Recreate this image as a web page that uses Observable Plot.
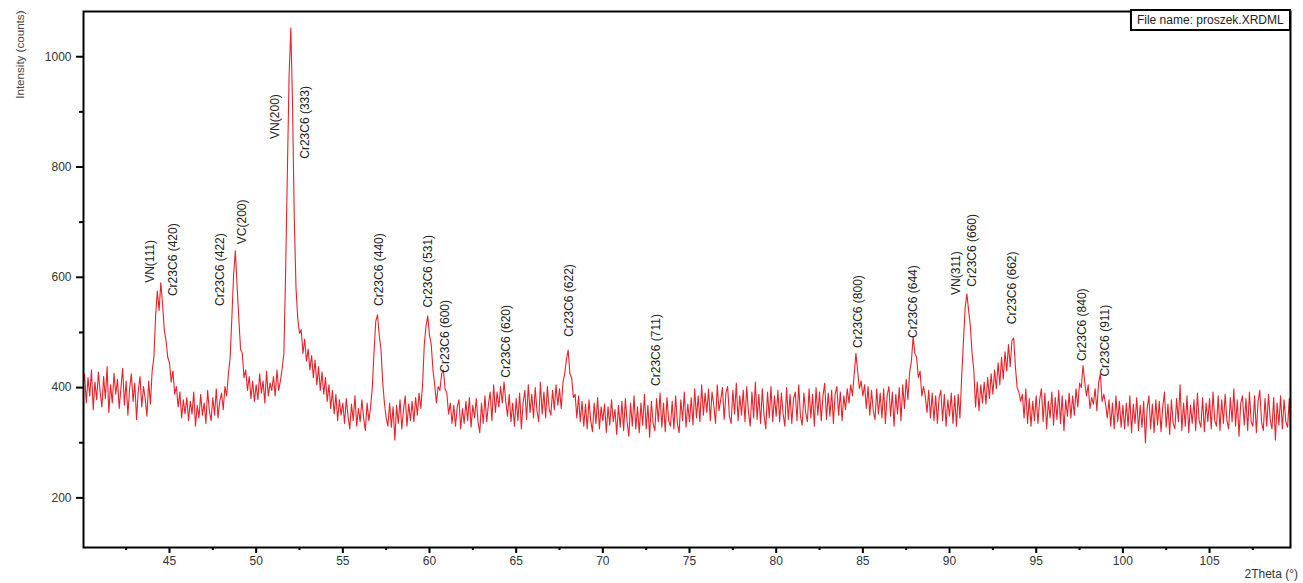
<!DOCTYPE html>
<html>
<head>
<meta charset="utf-8">
<script src="https://cdn.jsdelivr.net/npm/d3@7"></script>
<script src="https://cdn.jsdelivr.net/npm/@observablehq/plot@0.6"></script>
<style>
  html, body { margin: 0; padding: 0; background: #fff; }
  #chart { width: 1303px; height: 583px; overflow: hidden; }
</style>
</head>
<body>
<div id="chart"></div>
<script>
// 2Theta sampling: each segment starts at its start angle and advances 0.1° per value
const step = 0.1;
const seg40 = [
  400, 425, 372, 418, 385, 432, 360, 410, 378, 428,
  392, 365, 420, 380, 438, 355, 405, 372, 426, 388,
  415, 362, 400, 435, 368, 412, 350, 398, 425, 375,
  408, 342, 395, 420, 365, 402, 380, 348, 412, 370,
  430, 455, 530, 575, 540, 590, 552, 505, 485, 455,
  445, 410, 430, 388, 402, 365, 392, 345, 378, 352,
  382, 340, 375, 352, 392, 330, 368, 345, 388, 350,
  372, 335, 395, 358, 340, 382, 350, 398, 345, 375,
  390, 360, 402, 385, 425, 455, 528, 605, 648, 585,
  525, 470, 462, 418, 432, 395, 420, 380, 412, 375
];
const seg50 = [
  405, 378, 425, 390, 412, 372, 430, 385, 408, 395,
  420, 385, 432, 395, 412, 435, 462, 610, 790, 965,
  1052, 910, 705, 580, 525, 498, 505, 462, 488, 448,
  470, 432, 458, 418, 450, 405, 438, 395, 428, 388,
  418, 375, 405, 362, 395, 352, 388, 340, 378, 350,
  372, 335, 380, 348, 325, 370, 340, 385, 330, 362,
  338, 378, 345, 322, 372, 340, 365, 400, 465, 520,
  532, 495, 470, 410, 372, 345, 330, 372, 328, 365,
  305, 368, 335, 378, 325, 360, 385, 330, 370, 340,
  375, 338, 382, 350, 390, 362, 405, 478, 512, 530
];
const seg60 = [
  495, 478, 432, 405, 372, 402, 395, 425, 432, 398,
  390, 352, 372, 335, 368, 330, 365, 378, 325, 362,
  335, 375, 340, 382, 328, 368, 345, 380, 338, 318,
  372, 335, 385, 338, 370, 392, 340, 405, 355, 392,
  365, 402, 372, 410, 375, 348, 388, 338, 372, 330,
  380, 340, 390, 325, 372, 395, 342, 405, 355, 388,
  345, 400, 358, 338, 410, 352, 392, 345, 402, 362,
  350, 395, 360, 405, 368, 398, 362, 410, 425, 452,
  468, 425, 418, 382, 388, 345, 385, 338, 375, 330,
  370, 325, 378, 340, 320, 372, 335, 382, 325, 365
];
const seg70 = [
  340, 370, 318, 365, 332, 378, 338, 360, 315, 368,
  328, 375, 322, 380, 338, 312, 372, 330, 385, 325,
  365, 318, 372, 332, 388, 325, 368, 310, 375, 335,
  322, 380, 338, 390, 328, 372, 320, 382, 340, 330,
  375, 325, 385, 335, 318, 378, 340, 392, 328, 370,
  338, 382, 332, 398, 345, 385, 338, 405, 350, 390,
  355, 398, 340, 392, 368, 335, 405, 358, 378, 400,
  342, 390, 402, 348, 335, 395, 352, 408, 340, 385,
  350, 395, 338, 402, 355, 330, 392, 345, 410, 342,
  388, 335, 398, 350, 325, 392, 345, 402, 338, 385
];
const seg80 = [
  348, 395, 338, 390, 352, 330, 400, 342, 388, 335,
  380, 392, 340, 405, 348, 332, 390, 355, 338, 398,
  345, 388, 330, 400, 350, 392, 340, 385, 408, 342,
  390, 348, 395, 335, 388, 402, 350, 392, 340, 385,
  360, 398, 372, 405, 385, 425, 462, 430, 398, 412,
  385, 405, 362, 402, 350, 395, 358, 342, 398, 352,
  390, 345, 398, 335, 385, 402, 348, 392, 330, 388,
  352, 400, 340, 405, 362, 415, 378, 428, 448, 492,
  462, 455, 418, 430, 385, 402, 385, 355, 395, 345,
  390, 340, 385, 335, 382, 395, 340, 388, 330, 378
];
const seg90 = [
  348, 390, 335, 385, 330, 388, 345, 420, 482, 545,
  570, 540, 512, 462, 432, 365, 410, 358, 405, 372,
  410, 370, 418, 380, 425, 388, 432, 398, 445, 405,
  455, 415, 465, 430, 478, 438, 485, 490, 438, 400,
  392, 375, 388, 345, 398, 335, 380, 330, 375, 340,
  385, 335, 378, 398, 338, 390, 325, 375, 345, 392,
  332, 382, 342, 395, 335, 385, 322, 378, 348, 390,
  345, 385, 350, 398, 365, 408, 400, 440, 410, 385,
  405, 362, 382, 370, 398, 358, 410, 425, 375, 388,
  370, 345, 378, 330, 372, 325, 385, 338, 375, 328
];
const seg100 = [
  368, 325, 372, 330, 385, 318, 370, 335, 382, 322,
  368, 328, 375, 300, 362, 385, 325, 370, 318, 378,
  332, 375, 320, 365, 392, 328, 370, 315, 378, 335,
  325, 380, 338, 405, 322, 372, 330, 385, 318, 368,
  335, 378, 322, 390, 340, 328, 382, 320, 372, 338,
  380, 325, 392, 340, 330, 385, 322, 378, 335, 388,
  340, 325, 382, 338, 398, 330, 378, 312, 372, 385,
  332, 380, 322, 392, 338, 330, 385, 318, 375, 395,
  338, 322, 380, 330, 388, 342, 325, 382, 305, 372,
  332, 385, 325, 378, 338, 328, 380, 295
];
const segmentStarts = [40, 50, 60, 70, 80, 90, 100];
const segments = [seg40, seg50, seg60, seg70, seg80, seg90, seg100];

// peak annotations (2Theta of the label, intensity where the label begins)
const peakLabels = ["VN(111)", "Cr23C6 (420)", "Cr23C6 (422)", "VC(200)", "VN(200)", "Cr23C6 (333)",
  "Cr23C6 (440)", "Cr23C6 (531)", "Cr23C6 (600)", "Cr23C6 (620)", "Cr23C6 (622)", "Cr23C6 (711)",
  "Cr23C6 (800)", "Cr23C6 (644)", "VN(311)", "Cr23C6 (660)", "Cr23C6 (662)", "Cr23C6 (840)", "Cr23C6 (911)"];
const peakX = [43.9, 45.2, 47.9, 49.2, 51.1, 52.8, 57.1, 59.9, 60.9, 64.4, 68.05, 73.1,
  84.7, 87.9, 90.4, 91.3, 93.6, 97.65, 98.95];
const peakY = [590, 566, 548, 660, 851, 815, 548, 545, 427, 418, 492, 403,
  472, 490, 568, 583, 515, 448, 420];

const yMajor = [200, 400, 600, 800, 1000];
const yMinor = [300, 500, 700, 900];
const xMajor = [45, 50, 55, 60, 65, 70, 75, 80, 85, 90, 95, 100, 105];
const xMinor = [42.5, 47.5, 52.5, 57.5, 62.5, 67.5, 72.5, 77.5, 82.5, 87.5, 92.5, 97.5, 102.5, 107.5];

const yTitle = "Intensity (counts)";
const xTitle = "2Theta (°)";
const fileLegend = "File name: proszek.XRDML";

const data = segments.flatMap((vals, s) =>
  vals.map((v, i) => ({x: Math.round((segmentStarts[s] + i * step) * 100) / 100, y: v})));
const peaks = peakLabels.map((t, i) => ({t, x: peakX[i], y: peakY[i]}));

const W = 1303, H = 583, ML = 83, MR = 13, MT = 11, MB = 36;
const font = "'Liberation Sans', Arial, sans-serif";

const chart = Plot.plot({
  width: W, height: H,
  marginLeft: ML, marginRight: MR, marginTop: MT, marginBottom: MB,
  style: {fontFamily: font, fontSize: "12px", color: "#333", background: "#fff", overflow: "visible"},
  x: {domain: [40.04, 109.67]},
  y: {domain: [110, 1082]},
  marks: [
    Plot.line(data, {x: "x", y: "y", stroke: "#e8222a", strokeWidth: 1.1, clip: true}),
    Plot.axisY(yMajor, {tickSize: 7, tickPadding: 5, strokeWidth: 2, stroke: "#000", fill: "#333",
      label: null, fontSize: 12, tickFormat: d => String(d)}),
    Plot.axisY(yMinor, {tickSize: 4, strokeWidth: 2, stroke: "#000", text: null, label: null}),
    Plot.axisX(xMajor, {tickSize: 6, tickPadding: 3, strokeWidth: 2, stroke: "#000", fill: "#333", label: null,
      fontFamily: "'Liberation Sans Narrow', 'Liberation Sans', Arial, sans-serif", fontSize: 12,
      tickFormat: d => String(d)}),
    Plot.axisX(xMinor, {tickSize: 3, strokeWidth: 2, stroke: "#000", text: null, label: null}),
    Plot.frame({stroke: "#000", strokeWidth: 2}),
    Plot.text(peaks, {x: "x", y: "y", text: "t", rotate: -90, textAnchor: "start", fill: "#222", fontSize: 12}),
    Plot.text([yTitle], {text: d => d, frameAnchor: "top-left", rotate: -90, textAnchor: "end",
      dx: -68, dy: -1, fontSize: 11.6, fill: "#444"}),
    Plot.text([xTitle], {text: d => d, frameAnchor: "bottom-right", textAnchor: "start",
      dx: -46, dy: 30, fontSize: 12, fill: "#333"})
  ]
});
document.getElementById("chart").appendChild(chart);

// file-name legend box in the top-right corner of the frame
const svg = d3.select(chart);
const g = svg.append("g").attr("font-family", font).attr("font-size", 12).attr("text-anchor", "start");
const txt = g.append("text").attr("fill", "#222").attr("text-anchor", "start").text(fileLegend);
const bb = txt.node().getBBox();
const padX = 6, boxH = 20;
const bx = W - MR - bb.width - 2 * padX, by = MT - 1;
g.insert("rect", "text").attr("x", bx).attr("y", by).attr("width", bb.width + 2 * padX).attr("height", boxH)
  .attr("fill", "#fff").attr("stroke", "#000").attr("stroke-width", 2);
txt.attr("x", bx + padX).attr("y", by + 14);
</script>
</body>
</html>
